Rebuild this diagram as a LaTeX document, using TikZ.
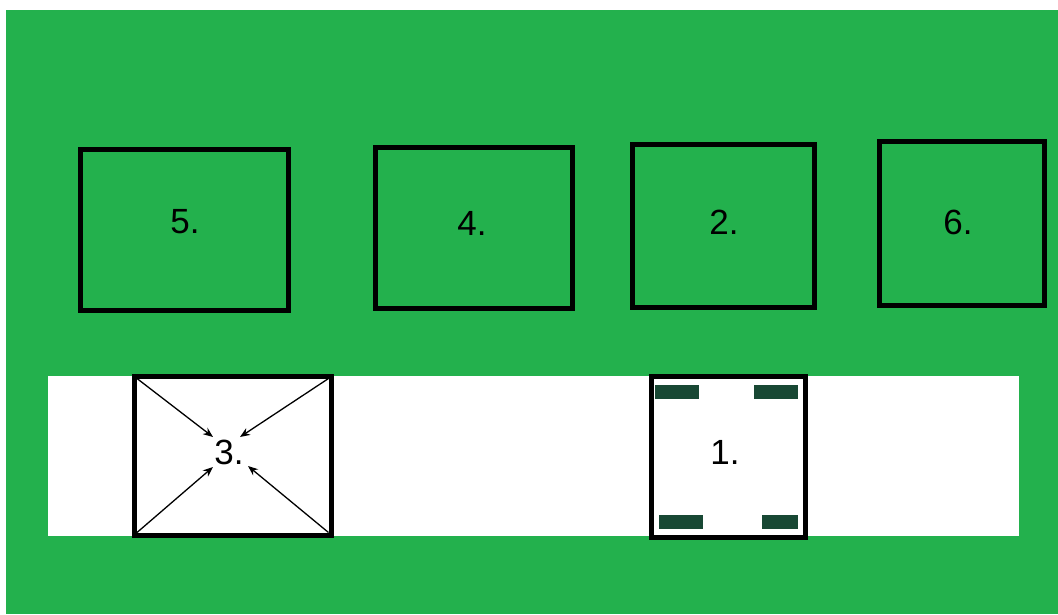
\documentclass[tikz,border=0pt]{standalone}
\usepackage{fontspec}
\setmainfont{Liberation Sans}
\usetikzlibrary{arrows.meta}
\definecolor{bggreen}{RGB}{35,177,77}
\definecolor{padgreen}{RGB}{24,72,52}
\tikzset{
  zone/.style={draw=black, line width=5pt, inner sep=0pt, outer sep=0pt},
  lbl/.style={font=\fontsize{35}{40}\selectfont, inner sep=0pt},
  pad/.style={fill=padgreen, draw=none, inner sep=0pt, minimum width=44pt, minimum height=14pt},
  inarrow/.style={line width=1.3pt, -{Stealth[length=10pt,width=8pt]}}
}
\begin{document}
\begin{tikzpicture}[x=1pt,y=-1pt]
\useasboundingbox (0,0) rectangle (1058,614);
\fill[white] (0,0) rectangle (1058,614);
\fill[bggreen] (6,10) rectangle (1058,614);
\fill[white] (48,376) rectangle (1019,536);
% top boxes
\node[zone, minimum width=208pt, minimum height=161pt] (b5) at (184.5,230) {};
\node[lbl] (t5) at (185,222) {5.};
\node[zone, minimum width=196.5pt, minimum height=161.5pt] (b4) at (473.75,227.75) {};
\node[lbl] (t4) at (472,223) {4.};
\node[zone, minimum width=182.5pt, minimum height=163pt] (b2) at (723.25,225.5) {};
\node[lbl] (t2) at (724,222) {2.};
\node[zone, minimum width=165pt, minimum height=164pt] (b6) at (962,223.5) {};
\node[lbl] (t6) at (958,222) {6.};
% box 3
\node[zone, fill=white, minimum width=196.5pt, minimum height=159pt] (b3) at (232.75,455.5) {};
\node[lbl] (t3) at (229,452) {3.};
\coordinate (a1) at (213,437);
\coordinate (a2) at (240,437);
\coordinate (a3) at (213,467);
\coordinate (a4) at (248,466);
\draw[inarrow] ([shift={(2.5,2.5)}]b3.north west) -- (a1);
\draw[inarrow] ([shift={(-2.5,2.5)}]b3.north east) -- (a2);
\draw[inarrow] ([shift={(2.5,-2.5)}]b3.south west) -- (a3);
\draw[inarrow] ([shift={(-2.5,-2.5)}]b3.south east) -- (a4);
% box 1
\node[zone, fill=white, minimum width=154pt, minimum height=161pt] (b1) at (728,456.5) {};
\node[lbl] (t1) at (725,452) {1.};
\node[pad] (p1) at (677,392) {};
\node[pad] (p2) at (776,392) {};
\node[pad] (p3) at (681,522) {};
\node[pad, minimum width=36pt] (p4) at (780,522) {};
\end{tikzpicture}
\end{document}
